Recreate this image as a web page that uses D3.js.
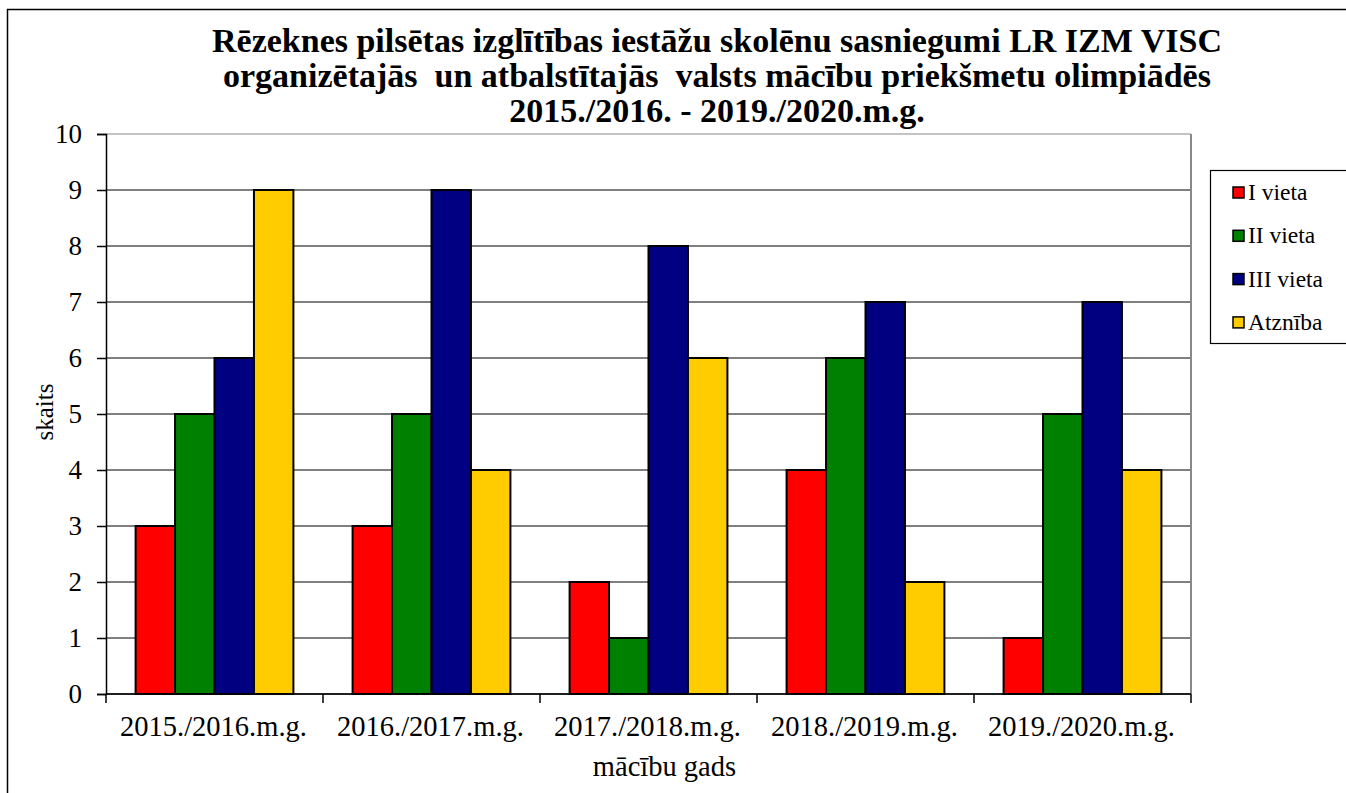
<!DOCTYPE html>
<html>
<head>
<meta charset="utf-8">
<script src="https://cdn.jsdelivr.net/npm/d3@7"></script>
<style>
  body { margin: 0; background: #fff; }
  svg text { font-family: "Liberation Serif", "Times New Roman", serif; }
</style>
</head>
<body>
<div id="viz"></div>
<script>
// data
var years = ['2015./2016.m.g.', '2016./2017.m.g.', '2017./2018.m.g.', '2018./2019.m.g.', '2019./2020.m.g.'];
var seriesNames = ['I vieta', 'II vieta', 'III vieta', 'Atznība'];
var firstPlace = [3, 3, 2, 4, 1];
var secondPlace = [5, 5, 1, 6, 5];
var thirdPlace = [6, 9, 8, 7, 7];
var honours = [9, 4, 6, 2, 4];
var colors = ['#ff0000', '#008000', '#000080', '#ffcc00'];
var yTicks = [0, 1, 2, 3, 4, 5, 6, 7, 8, 9, 10];
var titleLines = [
  'Rēzeknes pilsētas izglītības iestāžu skolēnu sasniegumi LR IZM VISC',
  'organizētajās  un atbalstītajās  valsts mācību priekšmetu olimpiādēs',
  '2015./2016. - 2019./2020.m.g.'
];

var allSeries = [firstPlace, secondPlace, thirdPlace, honours];

var W = 1346, H = 793;
var svg = d3.select('#viz').append('svg')
  .attr('width', W)
  .attr('height', H);

// outer chart border (right and bottom run off the picture)
svg.append('rect')
  .attr('x', 7.5).attr('y', 9.5)
  .attr('width', W + 10).attr('height', H + 10)
  .attr('fill', 'none')
  .attr('stroke', '#000')
  .attr('stroke-width', 1.5);

// plot area
var plotL = 106, plotR = 1191, plotT = 134, plotB = 694;

var y = d3.scaleLinear().domain([0, 10]).range([plotB, plotT]);
var x0 = d3.scaleBand().domain(years).range([plotL, plotR]);
// 4 bars, half a bar gap on each side
var x1 = d3.scaleBand().domain(seriesNames)
  .range([0, x0.bandwidth()])
  .paddingOuter(0.75).paddingInner(0);

// gridlines
svg.append('g').selectAll('line')
  .data(yTicks)
  .enter().append('line')
  .attr('x1', plotL).attr('x2', plotR)
  .attr('y1', function(d) { return y(d); })
  .attr('y2', function(d) { return y(d); })
  .attr('stroke', function(d) { return d == 10 ? '#888' : '#000'; })
  .attr('stroke-width', 1.2);

// right border of plot
svg.append('line')
  .attr('x1', plotR).attr('x2', plotR)
  .attr('y1', plotT).attr('y2', plotB)
  .attr('stroke', '#888').attr('stroke-width', 2);

// bars
var groups = svg.append('g').selectAll('g')
  .data(years)
  .enter().append('g')
  .attr('transform', function(d) { return 'translate(' + x0(d) + ',0)'; });

groups.selectAll('rect')
  .data(function(d, i) {
    return allSeries.map(function(s, j) { return {name: seriesNames[j], value: s[i], color: colors[j]}; });
  })
  .enter().append('rect')
  .attr('x', function(d) { return x1(d.name); })
  .attr('width', x1.bandwidth())
  .attr('y', function(d) { return y(d.value); })
  .attr('height', function(d) { return plotB - y(d.value); })
  .attr('fill', function(d) { return d.color; })
  .attr('stroke', '#000')
  .attr('stroke-width', 2);

// y axis
var yAxis = svg.append('g')
  .attr('transform', 'translate(' + plotL + ',0)')
  .call(d3.axisLeft(y).tickValues(yTicks).tickSize(9).tickPadding(15).tickFormat(d3.format('d')));
yAxis.selectAll('text').attr('font-size', 27).attr('fill', '#000')
  .style('font-family', '"Liberation Serif", serif');
yAxis.selectAll('line, path').attr('stroke', '#000').attr('stroke-width', 1.5);

// x axis: ticks between categories
var xAxis = svg.append('g')
  .attr('transform', 'translate(0,' + plotB + ')');
xAxis.append('line')
  .attr('x1', plotL).attr('x2', plotR)
  .attr('stroke', '#000').attr('stroke-width', 1.5);
var borders = years.map(function(d) { return x0(d); }).concat([plotR]);
xAxis.selectAll('.xTick')
  .data(borders)
  .enter().append('line')
  .attr('class', 'xTick')
  .attr('x1', function(d) { return d; }).attr('x2', function(d) { return d; })
  .attr('y1', 0).attr('y2', 9)
  .attr('stroke', '#000').attr('stroke-width', 1.5);
xAxis.selectAll('.xLabel')
  .data(years)
  .enter().append('text')
  .attr('class', 'xLabel')
  .attr('x', function(d) { return x0(d) + x0.bandwidth() / 2 - 1; })
  .attr('y', 42)
  .attr('text-anchor', 'middle')
  .attr('font-size', 28.5)
  .text(function(d) { return d; });

// axis titles
svg.append('text')
  .attr('x', (plotL + plotR) / 2 + 16)
  .attr('y', 776)
  .attr('text-anchor', 'middle')
  .attr('font-size', 28.5)
  .text('mācību gads');

svg.append('text')
  .attr('transform', 'translate(53,' + 412 + ') rotate(-90)')
  .attr('text-anchor', 'middle')
  .attr('font-size', 25)
  .text('skaits');

// title
svg.append('g').selectAll('text')
  .data(titleLines)
  .enter().append('text')
  .attr('x', 717)
  .attr('y', function(d, i) { return 52 + i * 35; })
  .attr('text-anchor', 'middle')
  .attr('font-size', 34)
  .attr('font-weight', 'bold')
  .style('white-space', 'pre')
  .text(function(d) { return d; });

// legend
var legend = svg.append('g');
legend.append('rect')
  .attr('x', 1210.5).attr('y', 170.5)
  .attr('width', 140).attr('height', 173)
  .attr('fill', '#fff')
  .attr('stroke', '#000').attr('stroke-width', 1.2);
var items = legend.selectAll('.item')
  .data(seriesNames)
  .enter().append('g')
  .attr('class', 'item')
  .attr('transform', function(d, i) { return 'translate(1233,' + (192 + i * 43.3) + ')'; });
items.append('rect')
  .attr('x', 0).attr('y', -5)
  .attr('width', 11).attr('height', 11)
  .attr('fill', function(d, i) { return colors[i]; })
  .attr('stroke', '#000').attr('stroke-width', 1.5);
items.append('text')
  .attr('x', 15).attr('y', 8)
  .attr('font-size', 23.5)
  .text(function(d) { return d; });
</script>
</body>
</html>
